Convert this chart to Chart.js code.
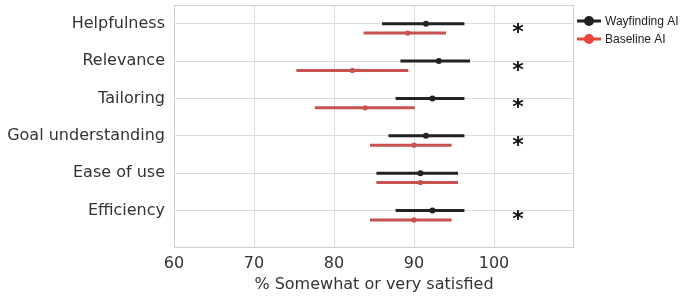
<!DOCTYPE html>
<html>
<head>
<meta charset="utf-8">
<script src="https://cdn.jsdelivr.net/npm/chart.js@4"></script>
<style>
  html, body { margin: 0; padding: 0; background: #fff; }
  #wrap { width: 690px; height: 296px; position: relative; }
</style>
</head>
<body>
<div id="wrap"><canvas id="c"></canvas></div>
<script>
// Satisfaction by dimension: mean with 95% CI, Wayfinding AI vs Baseline AI.
const CATEGORIES = ['Helpfulness', 'Relevance', 'Tailoring', 'Goal understanding', 'Ease of use', 'Efficiency'];

const WAY_MEAN = [91.5, 93.1, 92.3, 91.5, 90.8, 92.3];
const WAY_LOW  = [86.0, 88.3, 87.7, 86.8, 85.3, 87.7];
const WAY_HIGH = [96.3, 97.0, 96.3, 96.3, 95.5, 96.3];

const BASE_MEAN = [89.2, 82.3, 83.9, 90.0, 90.8, 90.0];
const BASE_LOW  = [83.7, 75.3, 77.6, 84.5, 85.3, 84.5];
const BASE_HIGH = [94.0, 89.3, 90.1, 94.7, 95.5, 94.7];

const SIGNIFICANT = [true, true, true, true, false, true];
const STAR_X = 103;

const X_TICKS = [60, 70, 80, 90, 100];

const BLACK = '#222222';
const RED_LINE = '#c8524f';
const RED_LEGEND = '#e8453b';
const GRID = '#dcdcdc';
const TEXT = '#333333';
const FONT = "'DejaVu Sans', sans-serif";

const SERIES = [
    { label: 'Wayfinding AI', mean: WAY_MEAN, low: WAY_LOW, high: WAY_HIGH, color: BLACK, legend: BLACK, offset: 0, r: 3 },
    { label: 'Baseline AI', mean: BASE_MEAN, low: BASE_LOW, high: BASE_HIGH, color: RED_LINE, legend: RED_LEGEND, offset: 0.25, r: 2.6 }
];

// CI whiskers + asterisks + frame + legend, all positioned through the chart scales
const extras = {
    id: 'extras',
    beforeDatasetsDraw(chart) {
        const { ctx, scales: { x, y } } = chart;
        ctx.save();
        ctx.lineCap = 'butt';
        ctx.lineWidth = 3;
        SERIES.forEach(s => {
            ctx.strokeStyle = s.color;
            s.mean.forEach((_, i) => {
                const py = y.getPixelForValue(i + s.offset);
                ctx.beginPath();
                ctx.moveTo(x.getPixelForValue(s.low[i]), py);
                ctx.lineTo(x.getPixelForValue(s.high[i]), py);
                ctx.stroke();
            });
        });
        ctx.restore();
    },
    afterDraw(chart) {
        const { ctx, chartArea: a, scales: { x, y } } = chart;
        ctx.save();
        // frame
        ctx.strokeStyle = '#cfcfcf';
        ctx.lineWidth = 1;
        ctx.strokeRect(a.left + 0.5, a.top + 0.5, a.right - a.left - 1, a.bottom - a.top - 1);

        // significance stars
        ctx.fillStyle = '#111';
        ctx.font = `bold 22px ${FONT}`;
        ctx.textAlign = 'center';
        ctx.textBaseline = 'alphabetic';
        SIGNIFICANT.forEach((sig, i) => {
            if (!sig) return;
            ctx.fillText('*', x.getPixelForValue(STAR_X), y.getPixelForValue(i + 0.42));
        });

        // legend
        ctx.font = "12px 'Liberation Sans', Arial, sans-serif";
        ctx.textAlign = 'left';
        ctx.textBaseline = 'middle';
        SERIES.forEach((s, k) => {
            const ly = 21 + k * 18;
            ctx.strokeStyle = s.legend;
            ctx.fillStyle = s.legend;
            ctx.lineWidth = 3;
            ctx.beginPath();
            ctx.moveTo(577, ly);
            ctx.lineTo(601, ly);
            ctx.stroke();
            ctx.beginPath();
            ctx.arc(589, ly, 5, 0, Math.PI * 2);
            ctx.fill();
            ctx.fillStyle = '#222';
            ctx.fillText(s.label, 605, ly + 0.5);
        });
        ctx.restore();
    }
};

new Chart(document.getElementById('c'), {
    type: 'scatter',
    data: {
        datasets: SERIES.map(s => ({
            label: s.label,
            data: s.mean.map((v, i) => ({ x: v, y: i + s.offset })),
            backgroundColor: s.color,
            borderColor: s.color,
            pointRadius: s.r,
            pointHoverRadius: s.r,
            borderWidth: 0
        }))
    },
    options: {
        responsive: true,
        maintainAspectRatio: false,
        animation: false,
        layout: { padding: { top: 5, right: 116, left: 0, bottom: 0 } },
        plugins: { legend: { display: false }, tooltip: { enabled: false } },
        scales: {
            x: {
                type: 'linear',
                min: 60,
                max: 110,
                afterBuildTicks: s => { s.ticks = X_TICKS.map(v => ({ value: v })); },
                afterFit: s => { s.height = 48; s.paddingLeft = 0; s.paddingRight = 0; },
                ticks: { color: TEXT, font: { family: FONT, size: 16 }, padding: 6, maxRotation: 0 },
                grid: { color: GRID, drawTicks: false },
                border: { display: false },
                title: {
                    display: true,
                    text: '% Somewhat or very satisfied',
                    color: TEXT,
                    font: { family: FONT, size: 16 },
                    padding: { top: 2, bottom: 2 }
                }
            },
            y: {
                type: 'linear',
                reverse: true,
                min: -0.5,
                max: 6,
                afterBuildTicks: s => { s.ticks = CATEGORIES.map((_, i) => ({ value: i })); },
                afterFit: s => { s.width = 174; s.paddingTop = 0; s.paddingBottom = 0; },
                ticks: {
                    color: TEXT,
                    font: { family: FONT, size: 16 },
                    padding: 9,
                    callback: v => CATEGORIES[v] ?? ''
                },
                grid: { color: GRID, drawTicks: false },
                border: { display: false }
            }
        }
    },
    plugins: [extras]
});
</script>
</body>
</html>
